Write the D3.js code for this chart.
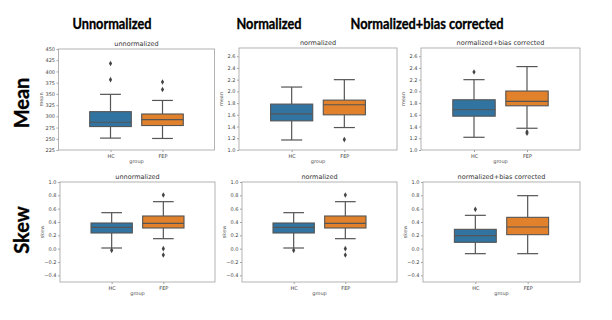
<!DOCTYPE html>
<html>
<head>
<meta charset="UTF-8">
<script src="https://d3js.org/d3.v7.min.js"></script>
<style>
  body { margin: 0; background: #fff; }
  .tick text { font-family: "DejaVu Sans", sans-serif; font-size: 5px; fill: #444; }
  .tick line { stroke: #666; stroke-width: 0.6px; }
  .domain { display: none; }
  .ptitle { font-family: "DejaVu Sans", sans-serif; font-size: 6.5px; fill: #333; }
  .axlabel { font-family: "DejaVu Sans", sans-serif; font-size: 5px; fill: #555; }
  .colhead { font-family: Lato, "Open Sans", sans-serif; font-weight: bold; font-size: 16px; fill: #000; stroke: #000; stroke-width: 0.35px; }
  .rowhead { font-family: Lato, "Open Sans", sans-serif; font-weight: bold; font-size: 20px; fill: #000; stroke: #000; stroke-width: 0.35px; }
</style>
</head>
<body>
<svg id="chart" width="612" height="320"></svg>
<script>
// ---- data ----
const groups = ["HC", "FEP"];
const colTitles = ["Unnormalized", "Normalized", "Normalized+bias corrected"];
const panelTitles = ["unnormalized", "normalized", "normalized+bias corrected"];
const rowTitles = ["Mean", "Skew"];
const rowYLabels = ["mean", "skew"];

// box stats per group: [whisker low, q1, median, q3, whisker high]
const meanUnnorm = [[251.5, 277.2, 286.8, 310.4, 349], [250.7, 279.5, 292.6, 305.2, 335.4]];
const meanUnnormOut = [[381.7, 417.6], [359.6, 376.5]];
const meanNorm = [[1.171, 1.497, 1.617, 1.783, 2.074], [1.383, 1.60, 1.771, 1.851, 2.20]];
const meanNormOut = [[], [1.177]];
const meanBias = [[1.217, 1.577, 1.686, 1.857, 2.20], [1.371, 1.754, 1.829, 2.006, 2.423]];
const meanBiasOut = [[2.331], [1.309, 1.286]];
const skewUnnorm = [[0.01, 0.235, 0.32, 0.385, 0.54], [0.15, 0.31, 0.38, 0.49, 0.705]];
const skewUnnormOut = [[-0.025], [0.805, 0.0, -0.095]];
const skewNorm = [[0.01, 0.235, 0.32, 0.385, 0.54], [0.15, 0.31, 0.38, 0.49, 0.705]];
const skewNormOut = [[-0.025], [0.805, 0.0, -0.095]];
const skewBias = [[-0.075, 0.095, 0.195, 0.29, 0.50], [-0.075, 0.21, 0.325, 0.47, 0.795]];
const skewBiasOut = [[0.59], []];

const meanTicksUnnorm = d3.range(225, 451, 25);
const meanTicksNorm = [1.0, 1.2, 1.4, 1.6, 1.8, 2.0, 2.2, 2.4, 2.6];
const skewTicks = [-0.4, -0.2, 0.0, 0.2, 0.4, 0.6, 0.8, 1.0];

const colors = ["#3274a1", "#e1812c"];

// ---- layout ----
const svg = d3.select("#chart");

const panels = [
  { x0: 58.5, x1: 214.5, y0: 49, y1: 150, dom: [225, 450], ticks: meanTicksUnnorm, fmt: d3.format("d"), stats: meanUnnorm, out: meanUnnormOut, col: 0, row: 0 },
  { x0: 239, x1: 397, y0: 48, y1: 150, dom: [1.0, 2.74], ticks: meanTicksNorm, fmt: d3.format(".1f"), stats: meanNorm, out: meanNormOut, col: 1, row: 0 },
  { x0: 421, x1: 580, y0: 48, y1: 150, dom: [1.0, 2.74], ticks: meanTicksNorm, fmt: d3.format(".1f"), stats: meanBias, out: meanBiasOut, col: 2, row: 0 },
  { x0: 60, x1: 215, y0: 182, y1: 282, dom: [-0.5, 1.0], ticks: skewTicks, fmt: d3.format(".1f"), stats: skewUnnorm, out: skewUnnormOut, col: 0, row: 1 },
  { x0: 242, x1: 397, y0: 182, y1: 282, dom: [-0.5, 1.0], ticks: skewTicks, fmt: d3.format(".1f"), stats: skewNorm, out: skewNormOut, col: 1, row: 1 },
  { x0: 423, x1: 580, y0: 182, y1: 282, dom: [-0.5, 1.0], ticks: skewTicks, fmt: d3.format(".1f"), stats: skewBias, out: skewBiasOut, col: 2, row: 1 }
];

panels.forEach(p => {
  const g = svg.append("g");
  const x = d3.scaleLinear().domain([-1, 2]).range([p.x0, p.x1]);
  const y = d3.scaleLinear().domain(p.dom).range([p.y1, p.y0]);
  const bw = x(0.4) - x(0);   // half box width
  const cw = bw / 2;          // half cap width

  g.append("g")
    .attr("transform", `translate(${p.x0},0)`)
    .call(d3.axisLeft(y).tickValues(p.ticks).tickFormat(p.fmt).tickSize(2).tickPadding(1.5));
  g.append("g")
    .attr("transform", `translate(0,${p.y1})`)
    .call(d3.axisBottom(x).tickValues([0, 1]).tickFormat((d, i) => groups[i]).tickSize(2).tickPadding(2));

  p.stats.forEach((s, i) => {
    const cx = x(i);
    const lc = "#555";
    // whiskers
    g.append("line").attr("x1", cx).attr("x2", cx).attr("y1", y(s[0])).attr("y2", y(s[1]))
      .attr("stroke", lc).attr("stroke-width", 1.2);
    g.append("line").attr("x1", cx).attr("x2", cx).attr("y1", y(s[3])).attr("y2", y(s[4]))
      .attr("stroke", lc).attr("stroke-width", 1.2);
    [s[0], s[4]].forEach(v => {
      g.append("line").attr("x1", cx - cw).attr("x2", cx + cw).attr("y1", y(v)).attr("y2", y(v))
        .attr("stroke", lc).attr("stroke-width", 1.2);
    });
    g.append("rect")
      .attr("x", cx - bw).attr("width", 2 * bw)
      .attr("y", y(s[3])).attr("height", y(s[1]) - y(s[3]))
      .attr("fill", colors[i]).attr("stroke", lc).attr("stroke-width", 1.1);
    g.append("line").attr("x1", cx - bw).attr("x2", cx + bw).attr("y1", y(s[2])).attr("y2", y(s[2]))
      .attr("stroke", lc).attr("stroke-width", 1.1);
    g.selectAll(null).data(p.out[i]).enter().append("path")
      .attr("d", d3.symbol(d3.symbolDiamond, 9))
      .attr("transform", d => `translate(${cx},${y(d)})`)
      .attr("fill", "#444");
  });

  g.append("rect")
    .attr("x", p.x0).attr("y", p.y0)
    .attr("width", p.x1 - p.x0).attr("height", p.y1 - p.y0)
    .attr("fill", "none").attr("stroke", "#aaa").attr("stroke-width", 0.9);

  g.append("text").attr("class", "ptitle")
    .attr("x", (p.x0 + p.x1) / 2).attr("y", p.y0 - 3)
    .attr("text-anchor", "middle").attr("fill", "#333").text(panelTitles[p.col]);
  g.append("text").attr("class", "axlabel")
    .attr("x", (p.x0 + p.x1) / 2).attr("y", p.y1 + 13)
    .attr("text-anchor", "middle").text("group");
  g.append("text").attr("class", "axlabel")
    .attr("transform", `translate(${p.x0 - 16},${(p.y0 + p.y1) / 2}) rotate(-90)`)
    .attr("text-anchor", "middle").text(rowYLabels[p.row]);
});

const colCenters = [112, 269, 427];
const colWidths = [79, 65, 153];
colTitles.forEach((t, i) => {
  svg.append("text").attr("class", "colhead")
    .attr("x", colCenters[i]).attr("y", 29)
    .attr("text-anchor", "middle")
    .attr("textLength", colWidths[i]).attr("lengthAdjust", "spacingAndGlyphs")
    .text(t);
});

const rowCenters = [103, 230];
rowTitles.forEach((t, i) => {
  svg.append("text").attr("class", "rowhead")
    .attr("transform", `translate(29,${rowCenters[i]}) rotate(-90)`)
    .attr("text-anchor", "middle").text(t);
});
</script>
</body>
</html>
